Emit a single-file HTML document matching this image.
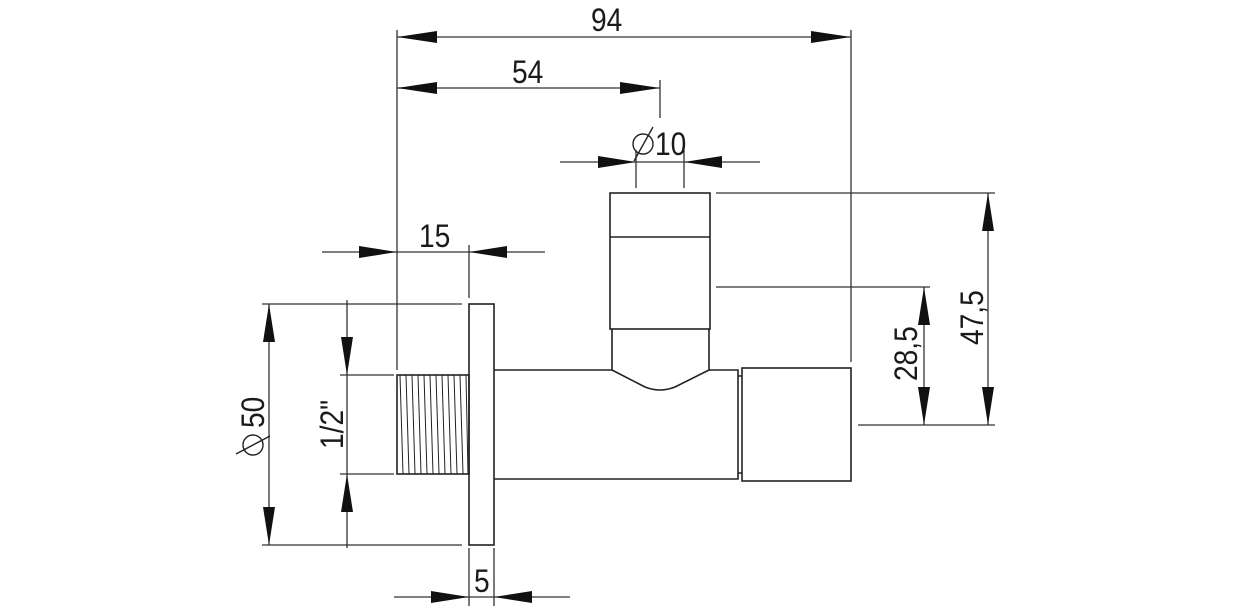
<!DOCTYPE html>
<html><head><meta charset="utf-8"><style>
html,body{margin:0;padding:0;background:#fff;width:1257px;height:612px;overflow:hidden}
svg{display:block}
text{font-family:"Liberation Sans",sans-serif;font-size:32px;fill:#1a1a1a}
</style></head><body>
<svg width="1257" height="612" viewBox="0 0 1257 612" xmlns="http://www.w3.org/2000/svg">
<g stroke="#333" stroke-width="1.3" fill="none">
<line x1="397" y1="30" x2="397" y2="370"/>
<line x1="851" y1="30" x2="851" y2="362"/>
<line x1="660" y1="80" x2="660" y2="118"/>
<line x1="636" y1="150" x2="636" y2="188"/>
<line x1="684" y1="150" x2="684" y2="188"/>
<line x1="469" y1="245" x2="469" y2="298"/>
<line x1="469" y1="548" x2="469" y2="606"/>
<line x1="494" y1="548" x2="494" y2="606"/>
<line x1="262" y1="304" x2="462" y2="304"/>
<line x1="262" y1="545" x2="462" y2="545"/>
<line x1="340" y1="375" x2="394" y2="375"/>
<line x1="340" y1="474" x2="394" y2="474"/>
<line x1="716" y1="193" x2="995" y2="193"/>
<line x1="716" y1="287" x2="930" y2="287"/>
<line x1="858" y1="425" x2="995" y2="425"/>
<line x1="397" y1="37" x2="851" y2="37"/>
<line x1="397" y1="88" x2="660" y2="88"/>
<line x1="560" y1="162" x2="760" y2="162"/>
<line x1="322" y1="252" x2="545" y2="252"/>
<line x1="394" y1="597" x2="570" y2="597"/>
<line x1="269" y1="304" x2="269" y2="545"/>
<line x1="347" y1="300" x2="347" y2="548"/>
<line x1="988" y1="193" x2="988" y2="425"/>
<line x1="924" y1="287" x2="924" y2="425"/>
</g>
<g fill="#111">
<polygon points="397,37 437,31 437,43"/><polygon points="851,37 811,31 811,43"/>
<polygon points="397,88 437,82 437,94"/><polygon points="660,88 620,82 620,94"/>
<polygon points="636,162 598,156 598,168"/><polygon points="684,162 722,156 722,168"/>
<polygon points="397,252 359,246 359,258"/><polygon points="469,252 507,246 507,258"/>
<polygon points="469,597 431,591 431,603"/><polygon points="494,597 532,591 532,603"/>
<polygon points="269,304 263,342 275,342"/><polygon points="269,545 263,507 275,507"/>
<polygon points="347,375 341,337 353,337"/><polygon points="347,474 341,512 353,512"/>
<polygon points="988,193 982,231 994,231"/><polygon points="988,425 982,387 994,387"/>
<polygon points="924,287 918,325 930,325"/><polygon points="924,425 918,387 930,387"/>
</g>
<g stroke="#222" stroke-width="1.6" fill="none">
<rect x="469" y="304" width="25" height="241"/>
<rect x="397" y="375" width="72" height="99"/>
<path d="M494,370 L612,370 M709,370 L738,370 L738,479 L494,479"/>
<path d="M612,370 L645,387 Q660,393 675,387 L709,370"/>
<line x1="612" y1="329" x2="612" y2="370"/>
<line x1="709" y1="329" x2="709" y2="370"/>
<rect x="610" y="193" width="100" height="136"/>
<line x1="610" y1="237" x2="710" y2="237"/>
<path d="M738,376 L742,376 M738,473 L742,473"/>
<rect x="742" y="368" width="109" height="113"/>
</g>
<g stroke="#222" stroke-width="1">
<path d="M400,375 L403,474 M406,375 L409,474 M412,375 L415,474 M418,375 L421,474 M424,375 L427,474 M430,375 L433,474 M436,375 L439,474 M442,375 L445,474 M448,375 L451,474 M454,375 L457,474 M460,375 L463,474 M466,375 L468,474"/>
</g>
<g>
<text transform="translate(591,31) scale(0.88,1)">94</text>
<text transform="translate(512,83) scale(0.88,1)">54</text>
<text transform="translate(419,247) scale(0.88,1)">15</text>
<text transform="translate(474,592) scale(0.88,1)">5</text>
<text transform="translate(655,155) scale(0.88,1)">10</text>
<text transform="translate(264,428) rotate(-90) scale(0.88,1)">50</text>
<text transform="translate(343,449) rotate(-90) scale(0.88,1)">1/2"</text>
<text transform="translate(983,345) rotate(-90) scale(0.88,1)">47,5</text>
<text transform="translate(917,381) rotate(-90) scale(0.88,1)">28,5</text>
</g>
<g stroke="#222" stroke-width="1.4" fill="none">
<circle cx="643" cy="144" r="10"/><line x1="634" y1="161" x2="653" y2="127"/>
<circle cx="253" cy="445" r="10"/><line x1="236" y1="454" x2="270" y2="436"/>
</g>
</svg>
</body></html>
